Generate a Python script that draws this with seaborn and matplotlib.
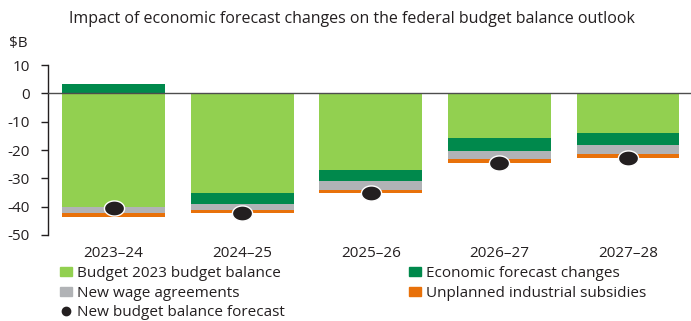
import numpy as np
import pandas as pd
import matplotlib
matplotlib.use("Agg")
import matplotlib.pyplot as plt
import seaborn as sns
from matplotlib.patches import Patch
from matplotlib.lines import Line2D

# ==============================================================
# Data ($B)
# ==============================================================
periods = ["2023\u201324", "2024\u201325", "2025\u201326", "2026\u201327", "2027\u201328"]
budget_2023 = [-40.0, -35.2, -27.0, -15.8, -14.1]
econ_changes = [3.2, -3.8, -4.0, -4.5, -4.2]
wage_agreements = [-2.4, -2.1, -3.0, -2.9, -3.1]
industrial_subsidies = [-1.3, -1.3, -1.2, -1.3, -1.3]
new_forecast = [-40.6, -42.4, -35.2, -24.5, -22.7]

yticks = [10, 0, -10, -20, -30, -40, -50]

# ==============================================================
# Styles
# ==============================================================
C_LIGHT = "#92D050"
C_DARK = "#00894C"
C_GREY = "#B1B3B6"
C_ORANGE = "#E8710A"
C_DOT = "#231F20"
C_TEXT = "#231F20"

sns.set_style("white")
plt.rcParams["font.family"] = ["Open Sans", "DejaVu Sans"]
plt.rcParams["text.color"] = C_TEXT
plt.rcParams["axes.labelcolor"] = C_TEXT
plt.rcParams["xtick.color"] = C_TEXT
plt.rcParams["ytick.color"] = C_TEXT

layers = [
    ("Budget 2023 budget balance", budget_2023, C_LIGHT),
    ("Economic forecast changes", econ_changes, C_DARK),
    ("New wage agreements", wage_agreements, C_GREY),
    ("Unplanned industrial subsidies", industrial_subsidies, C_ORANGE),
]

# cumulative ends of each stacked segment (positive and negative stacks apart)
pos_cum = np.zeros(len(periods))
neg_cum = np.zeros(len(periods))
ends = []
for name, vals, color in layers:
    v = np.array(vals)
    pos_cum = pos_cum + np.where(v > 0, v, 0)
    neg_cum = neg_cum + np.where(v < 0, v, 0)
    ends.append((name, np.where(v > 0, pos_cum, neg_cum), color))

df = pd.DataFrame({"period": periods, "forecast": new_forecast})
for name, end, color in ends:
    df[name] = end

fig = plt.figure(figsize=(6.91, 3.21), dpi=100)
ax = fig.add_axes([48 / 691, 86 / 321, 643 / 691, 170 / 321])

# draw deepest segment first so the ones nearer zero sit on top
for name, end, color in reversed(ends):
    sns.barplot(data=df, x="period", y=name, color=color, width=0.8,
                errorbar=None, saturation=1, linewidth=0, ax=ax)

# elliptical dot for the new forecast
t = np.linspace(0, 2 * np.pi, 60)
ellipse = np.column_stack([np.cos(t), 0.75 * np.sin(t)])
sns.stripplot(data=df, x="period", y="forecast", jitter=False, marker=ellipse,
              size=14.5, color=C_DOT, edgecolor="white", linewidth=1.0,
              zorder=5, ax=ax)

ax.axhline(0, color="#4D4D4D", linewidth=1.0, zorder=4)

ax.set_xlim(-0.51, 4.49)
ax.set_ylim(-50, 10)
ax.set_yticks(yticks)
ax.set_yticklabels([str(v) for v in yticks])
ax.set_xlabel("")
ax.set_ylabel("")

for side in ["top", "right", "bottom"]:
    ax.spines[side].set_visible(False)
ax.spines["left"].set_color("#231F20")
ax.spines["left"].set_linewidth(1.0)
ax.tick_params(axis="y", length=5, width=1.0, pad=8, labelsize=11,
               left=True, direction="out")
ax.tick_params(axis="x", length=0, pad=8, labelsize=11)

fig.text(69 / 691, 1 - 19 / 321, "Impact of economic forecast changes on the federal budget balance outlook",
         ha="left", va="center", fontsize=11.5)
fig.text(9 / 691, 1 - 43 / 321, "\\$B", ha="left", va="center", fontsize=11)

col1 = [
    Patch(color=C_LIGHT, label="Budget 2023 budget balance"),
    Patch(color=C_GREY, label="New wage agreements"),
    Line2D([], [], marker="o", linestyle="", color=C_DOT, markersize=6,
           label="New budget balance forecast"),
]
col2 = [
    Patch(color=C_DARK, label="Economic forecast changes"),
    Patch(color=C_ORANGE, label="Unplanned industrial subsidies"),
]
leg_kw = dict(loc="upper left", frameon=False, fontsize=11,
              handlelength=0.8, handleheight=0.55, handletextpad=0.3,
              labelspacing=0.3, borderpad=0, borderaxespad=0)
fig.legend(handles=col1, bbox_to_anchor=(60 / 691, 1 - 266 / 321), **leg_kw)
fig.legend(handles=col2, bbox_to_anchor=(409 / 691, 1 - 266 / 321), **leg_kw)

fig.savefig("out.png", dpi=100)
